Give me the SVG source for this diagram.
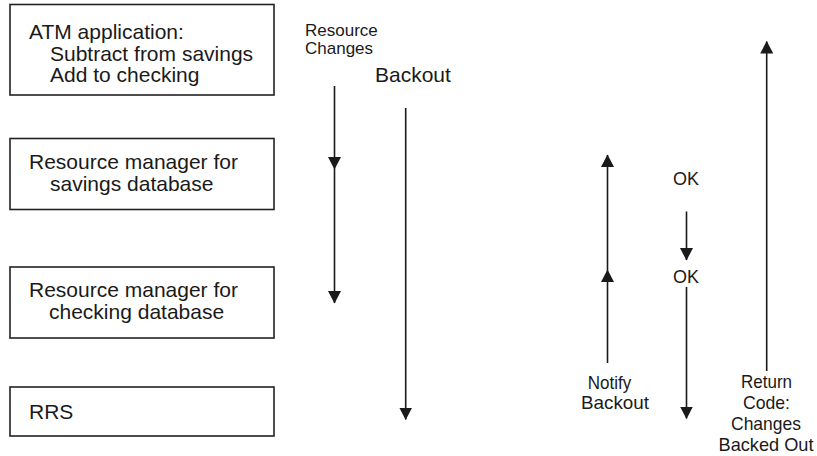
<svg xmlns="http://www.w3.org/2000/svg" width="817" height="456" viewBox="0 0 817 456">
<style>
.box{fill:#fff;stroke:#222;stroke-width:1.6}
.t{font-family:"Liberation Sans",Arial,Helvetica,sans-serif;fill:#1a1a1a}
.b{font-size:21px}
.s{font-size:17px}
.k{font-size:18px}
.n{font-size:19px}
.c{text-anchor:middle}
.ln{fill:none;stroke:#1a1a1a;stroke-width:1.6;marker-end:url(#ah)}
.mid{marker-mid:url(#ah)}
</style>
<defs>
<marker id="ah" markerUnits="userSpaceOnUse" markerWidth="13" markerHeight="13" refX="12" refY="6.5" orient="auto">
<path d="M0,0 L12.5,6.5 L0,13 z" fill="#1a1a1a"/>
</marker>
</defs>
<rect width="817" height="456" fill="#fff"/>
<g id="atm">
<rect class="box" x="10" y="4.5" width="264" height="90.5"/>
<text class="t b" x="29" y="39">ATM application:</text>
<text class="t b" x="50" y="61">Subtract from savings</text>
<text class="t b" x="50" y="82">Add to checking</text>
</g>
<g id="rm-savings">
<rect class="box" x="10" y="138.5" width="264" height="71"/>
<text class="t b" x="29" y="169">Resource manager for</text>
<text class="t b" x="50" y="191">savings database</text>
</g>
<g id="rm-checking">
<rect class="box" x="10" y="267" width="264" height="71"/>
<text class="t b" x="29" y="297">Resource manager for</text>
<text class="t b" x="49" y="319">checking database</text>
</g>
<g id="rrs">
<rect class="box" x="10" y="387" width="264" height="49"/>
<text class="t b" x="29" y="419">RRS</text>
</g>
<g id="connectors">
<path class="ln mid" d="M334.5,86 L334.5,169 L334.5,303"/>
<path class="ln" d="M405.7,108 L405.7,419.5"/>
<path class="ln mid" d="M607.5,363 L607.5,270 L607.5,155"/>
<path class="ln" d="M686.5,211.5 L686.5,260"/>
<path class="ln" d="M686.5,287 L686.5,418.5"/>
<path class="ln" d="M766.7,371 L766.7,41.5"/>
</g>
<g id="labels">
<text class="t s" x="305" y="36">Resource</text>
<text class="t s" x="305" y="54">Changes</text>
<text class="t b" x="375" y="82">Backout</text>
<text class="t k" x="673" y="185">OK</text>
<text class="t k" x="673" y="283">OK</text>
<text class="t n c" x="609.5" y="389" textLength="43.5" lengthAdjust="spacingAndGlyphs">Notify</text>
<text class="t n c" x="615" y="409" textLength="68" lengthAdjust="spacingAndGlyphs">Backout</text>
<text class="t n c" x="766.5" y="388" textLength="51" lengthAdjust="spacingAndGlyphs">Return</text>
<text class="t n c" x="766.5" y="408.5" textLength="47" lengthAdjust="spacingAndGlyphs">Code:</text>
<text class="t n c" x="766" y="429.5" textLength="70" lengthAdjust="spacingAndGlyphs">Changes</text>
<text class="t n c" x="766" y="451" textLength="95" lengthAdjust="spacingAndGlyphs">Backed Out</text>
</g>
</svg>
